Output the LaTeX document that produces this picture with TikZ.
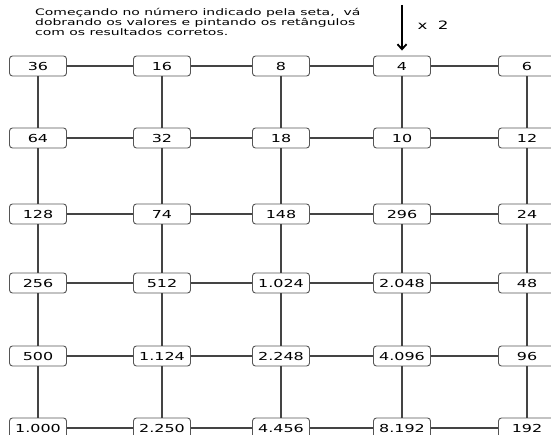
\documentclass[tikz,border=0pt]{standalone}
\usepackage{fontspec}
\usetikzlibrary{arrows.meta}
\newfontfamily\numfont[FakeStretch=1.45]{DejaVu Sans}
\newfontfamily\capfont[FakeStretch=1.55]{DejaVu Sans}
\definecolor{boxgray}{HTML}{555555}
\definecolor{linegray}{HTML}{444444}
\tikzset{
  box/.style={draw=boxgray, line width=0.9pt, rounded corners=3pt,
    minimum width=57pt, minimum height=20pt, inner sep=0pt, fill=white,
    font=\numfont\fontsize{11}{11}\selectfont},
  link/.style={draw=linegray, line width=1.2pt},
}
\begin{document}
\begin{tikzpicture}[x=1pt,y=-1pt]
\useasboundingbox (0,0) rectangle (551,435);
\def\colx{{38,162,281,402,527}}
\def\rowy{{66,138,214,283,356,428}}
\foreach \r/\vals in {1/{36,16,8,4,6},2/{64,32,18,10,12},3/{128,74,148,296,24},
  4/{256,512,1.024,2.048,48},5/{500,1.124,2.248,4.096,96},6/{1.000,2.250,4.456,8.192,192}}{
  \foreach \v [count=\c] in \vals {
    \pgfmathsetmacro\xx{\colx[\c-1]}
    \pgfmathsetmacro\yy{\rowy[\r-1]}
    \node[box] (n-\r-\c) at (\xx,\yy) {\v};
  }
}
\foreach \r in {1,...,6}{
  \foreach \c [evaluate=\c as \d using int(\c+1)] in {1,...,4}{
    \draw[link] (n-\r-\c.east) -- (n-\r-\d.west);
  }
}
\foreach \r [evaluate=\r as \s using int(\r+1)] in {1,...,5}{
  \foreach \c in {1,...,5}{
    \draw[link] (n-\r-\c.south) -- (n-\s-\c.north);
  }
}
\coordinate (arrtop) at (402,5);
\draw[line width=1.8pt, -{Straight Barb[length=5pt,width=9pt]}, shorten >=5pt] (arrtop) -- (n-1-4.north);
\node[font=\numfont\fontsize{11.5}{11.5}\selectfont, anchor=west] (times) at (414,25) {x\ \ 2};
\node[anchor=north west, align=left, inner sep=0pt,
  font=\capfont\fontsize{9}{10}\selectfont] (caption) at (35,8)
  {Começando no número indicado pela seta,\ \ vá\\
   dobrando os valores e pintando os retângulos\\
   com os resultados corretos.};
\end{tikzpicture}
\end{document}
